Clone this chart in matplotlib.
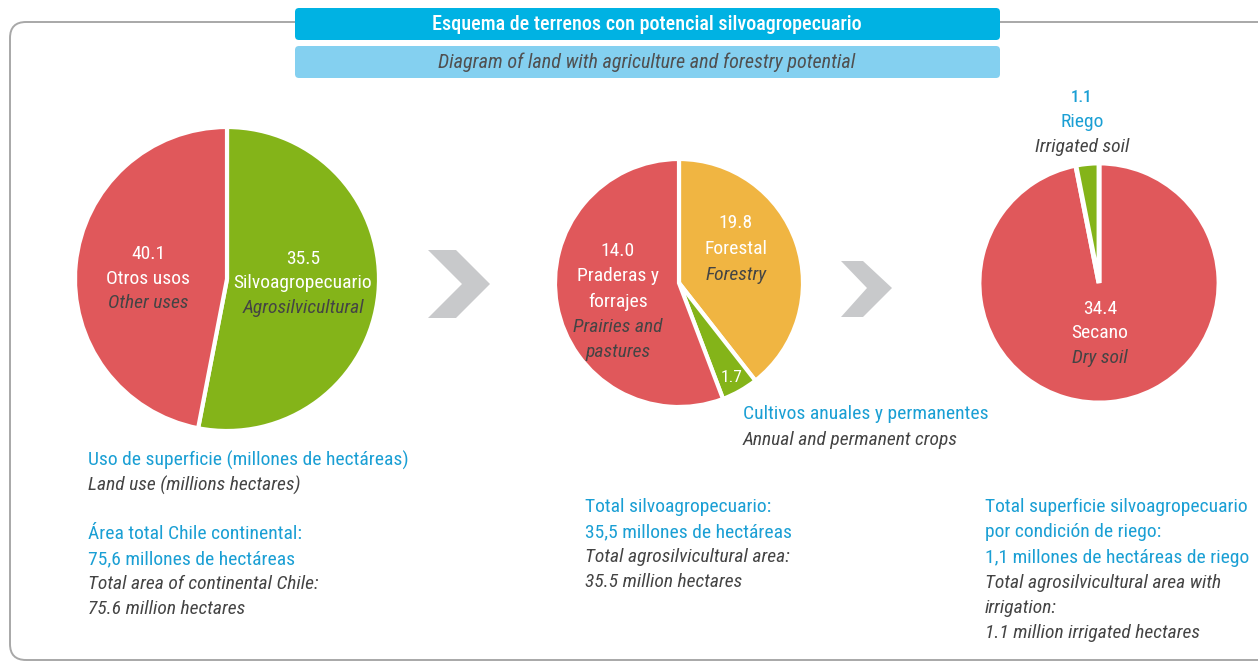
import matplotlib
matplotlib.use("Agg")
import matplotlib.pyplot as plt
from matplotlib.patches import FancyBboxPatch, Polygon

plt.rcParams['font.family'] = ['Roboto Condensed', 'DejaVu Sans']

# --- data ---
# pie 1: land use (millions ha), slice sizes as drawn in the source, clockwise from 12 o'clock
land_values = [40.1, 35.5]
land_text = ["35.5", "40.1"]

# pie 2: agro-forestry area, slice sizes as drawn in the source, clockwise from 12 o'clock
agro_values = [14.0, 1.7, 19.8]
agro_text = ["19.8", "1.7", "14.0"]

# pie 3: irrigation condition, clockwise from 12 o'clock
irr_values = [34.4, 1.1]
irr_text = ["34.4", "1.1"]

RED = "#e0585b"
GREEN = "#84b419"
ORANGE = "#f0b542"
BLUE = "#1a9fd4"
DARK = "#444444"
W, H = 1258, 662

fig = plt.figure(figsize=(W / 100, H / 100), dpi=100)
ax = fig.add_axes([0, 0, 1, 1])


def Y(y):
    return H - y


wp = dict(edgecolor="white", linewidth=3)
ax.pie(land_values, colors=[GREEN, RED], startangle=90, counterclock=False,
       center=(227, Y(279)), radius=152, wedgeprops=wp)
ax.pie(agro_values, colors=[ORANGE, GREEN, RED], startangle=90, counterclock=False,
       center=(679, Y(283)), radius=124, wedgeprops=wp)
ax.pie(irr_values, colors=[RED, GREEN], startangle=90, counterclock=False,
       center=(1099, Y(283)), radius=120, wedgeprops=dict(edgecolor="white", linewidth=3.5))

ax.set_xlim(0, W)
ax.set_ylim(0, H)
ax.set_aspect("auto")
ax.axis("off")

# frame
frame = FancyBboxPatch((10, Y(660)), 1300, 638, boxstyle="round,pad=0,rounding_size=16",
                       fill=False, edgecolor="#a8a8a8", linewidth=1.4, zorder=0)
ax.add_patch(frame)

# header boxes
ax.add_patch(FancyBboxPatch((295, Y(40)), 705, 32, boxstyle="round,pad=0,rounding_size=4",
                            facecolor="#00b2e3", edgecolor="none", zorder=2))
ax.add_patch(FancyBboxPatch((295, Y(78)), 705, 32, boxstyle="round,pad=0,rounding_size=4",
                            facecolor="#84d0f0", edgecolor="none", zorder=2))
ax.text(647, Y(24), "Esquema de terrenos con potencial silvoagropecuario", color="white",
        fontsize=14.5, fontweight="medium", ha="center", va="center", zorder=3)
ax.text(647, Y(62), "Diagram of land with agriculture and forestry potential", color="#505050",
        fontsize=14.5, style="italic", ha="center", va="center", zorder=3)

# chevrons
for pts in ([(428, 250), (456, 250), (490, 284), (456, 318), (428, 318), (462, 284)],
            [(841, 261), (863, 261), (892, 288), (863, 317), (841, 317), (867, 288)]):
    ax.add_patch(Polygon([(x, Y(y)) for x, y in pts], closed=True, facecolor="#c8c9cb",
                         edgecolor="none"))

FS = 14


def lines(x, y0, items, step=24.5, ha="center"):
    for i, (txt, col, it) in enumerate(items):
        ax.text(x, Y(y0 + i * step), txt, color=col, fontsize=FS, ha=ha, va="center",
                style="italic" if it else "normal")


# pie 1 labels
lines(148, 254, [(land_text[1], "white", 0), ("Otros usos", "white", 0), ("Other uses", DARK, 1)])
lines(303, 259, [(land_text[0], "white", 0), ("Silvoagropecuario", "white", 0),
                 ("Agrosilvicultural", DARK, 1)])

# pie 2 labels
lines(736, 223, [(agro_text[0], "white", 0), ("Forestal", "white", 0), ("Forestry", DARK, 1)], step=26)
lines(618, 251, [(agro_text[2], "white", 0), ("Praderas y", "white", 0), ("forrajes", "white", 0),
                 ("Prairies and", DARK, 1), ("pastures", DARK, 1)], step=25.3)
ax.text(732, Y(378), agro_text[1], color="white", fontsize=12.5, ha="center", va="center")
lines(743, 414, [("Cultivos anuales y permanentes", BLUE, 0),
                 ("Annual and permanent crops", DARK, 1)], step=26, ha="left")

# pie 3 labels
ax.text(1082, Y(98), irr_text[1], color=BLUE, fontsize=12, fontweight="medium",
        ha="center", va="center")
lines(1082, 122, [("Riego", BLUE, 0), ("Irrigated soil", DARK, 1)])
lines(1100, 309, [(irr_text[0], "white", 0), ("Secano", "white", 0), ("Dry soil", DARK, 1)])

# notes
lines(88, 460, [("Uso de superficie (millones de hectáreas)", BLUE, 0),
                ("Land use (millions hectares)", DARK, 1)], step=25, ha="left")
lines(88, 534, [("Área total Chile continental:", BLUE, 0), ("75,6 millones de hectáreas", BLUE, 0),
                ("Total area of continental Chile:", DARK, 1), ("75.6 million hectares", DARK, 1)],
      step=25, ha="left")
lines(585, 507, [("Total silvoagropecuario:", BLUE, 0), ("35,5 millones de hectáreas", BLUE, 0),
                 ("Total agrosilvicultural area:", DARK, 1), ("35.5 million hectares", DARK, 1)],
      step=25, ha="left")
lines(985, 507, [("Total superficie silvoagropecuario", BLUE, 0), ("por condición de riego:", BLUE, 0),
                 ("1,1 millones de hectáreas de riego", BLUE, 0),
                 ("Total agrosilvicultural area with", DARK, 1), ("irrigation:", DARK, 1),
                 ("1.1 million irrigated hectares", DARK, 1)], step=25.3, ha="left")

fig.savefig("out.png", dpi=100)
